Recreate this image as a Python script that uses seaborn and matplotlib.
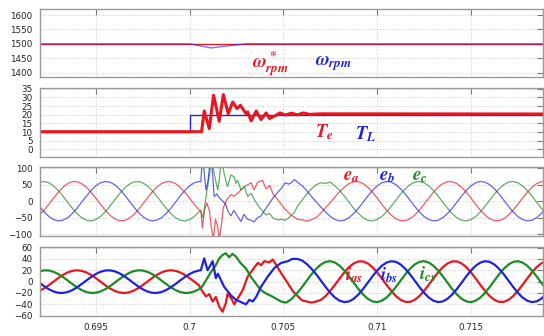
import matplotlib
matplotlib.use("Agg")
import matplotlib.pyplot as plt
import numpy as np
import pandas as pd
import seaborn as sns

# ---------------- sample clocks for the steady-state stretches (ms) ----------------
t_pre_ms = [692.00, 692.25, 692.50, 692.75, 693.00, 693.25, 693.50, 693.75, 694.00, 694.25,
            694.50, 694.75, 695.00, 695.25, 695.50, 695.75, 696.00, 696.25, 696.50, 696.75,
            697.00, 697.25, 697.50, 697.75, 698.00, 698.25, 698.50, 698.75, 699.00, 699.25,
            699.50, 699.75, 700.00, 700.25, 700.50]
t_post_ms = [705.75, 706.00, 706.25, 706.50, 706.75, 707.00, 707.25, 707.50, 707.75, 708.00,
             708.25, 708.50, 708.75, 709.00, 709.25, 709.50, 709.75, 710.00, 710.25, 710.50,
             710.75, 711.00, 711.25, 711.50, 711.75, 712.00, 712.25, 712.50, 712.75, 713.00,
             713.25, 713.50, 713.75, 714.00, 714.25, 714.50, 714.75, 715.00, 715.25, 715.50,
             715.75, 716.00, 716.25, 716.50, 716.75, 717.00, 717.25, 717.50, 717.75, 718.00,
             718.25, 718.50, 718.75, 719.00]

# ---------------- rotor speed (rpm) ----------------
speed_ref_t_ms = [692.0, 719.0]
speed_ref = [1500, 1500]
speed_t_ms = [692.0, 700.03, 701.14, 703.10, 704.50, 719.0]
speed = [1500, 1500, 1486, 1501, 1500, 1500]

# ---------------- torque (N.m) ----------------
te_t_ms = [692.0, 700.64, 700.78, 701.05, 701.28, 701.58, 701.80, 702.06, 702.30, 702.53,
           702.71, 703.01, 703.10, 703.28, 703.55, 703.81, 704.08, 704.26, 704.62, 704.81,
           705.12, 705.43, 705.75, 706.06, 706.40, 707.00, 719.0]
te = [10.2, 10.2, 22.1, 12.0, 31.2, 16.2, 31.6, 20.6, 27.3, 23.5,
      25.4, 20.6, 21.6, 16.4, 22.1, 17.2, 21.0, 17.8, 19.7, 21.0,
      19.8, 20.9, 19.9, 21.0, 20.2, 20.5, 20.4]
tl_t_ms = [692.0, 700.0, 719.0]
tl = [10, 20, 20]

# ---------------- phase voltages (V) ----------------
ea_pre = [-42.4, -27.2, -9.4, 9.4, 27.2, 42.4, 53.5, 59.3, 59.3, 53.5, 42.4, 27.2, 9.4, -9.4, -27.2,
          -42.4, -53.5, -59.3, -59.3, -53.5, -42.4, -27.2, -9.4, 9.4, 27.2, 42.4, 53.5, 59.3, 59.3,
          53.5, 42.4, 27.2, 9.4, -9.4, -27.2]
eb_pre = [-15.5, -32.7, -46.6, -56.0, -59.9, -58.0, -50.3, -37.7, -21.5, -3.1, 15.5, 32.7, 46.6, 56.0,
          59.9, 58.0, 50.3, 37.7, 21.5, 3.1, -15.5, -32.7, -46.6, -56.0, -59.9, -58.0, -50.3, -37.7,
          -21.5, -3.1, 15.5, 32.7, 46.6, 56.0, 59.9]
ec_pre = [58.0, 59.9, 56.0, 46.6, 32.7, 15.5, -3.1, -21.5, -37.7, -50.3, -58.0, -59.9, -56.0, -46.6,
          -32.7, -15.5, 3.1, 21.5, 37.7, 50.3, 58.0, 59.9, 56.0, 46.6, 32.7, 15.5, -3.1, -21.5, -37.7,
          -50.3, -58.0, -59.9, -56.0, -46.6, -32.7]

ea_tr_t_ms = [700.60, 700.68, 700.79, 700.92, 701.06, 701.16, 701.27, 701.38, 701.49, 701.59,
              701.70, 701.80, 701.99, 702.20, 702.36, 702.58, 702.90, 703.28, 703.44, 703.63,
              703.89, 704.08, 704.27, 704.45, 704.72, 705.07, 705.42]
ea_tr = [-28, -82, -30, -5, -30, -80, -115, -55, -75, -115,
         -70, -20, 5, 20, 15, 25, 43, 56, 35, 58,
         63, 38, 48, 22, 3, -23, -43]
eb_tr_t_ms = [700.60, 700.66, 700.74, 700.87, 700.98, 701.08, 701.19, 701.31, 701.46, 701.62,
              701.77, 701.93, 702.04, 702.20, 702.36, 702.55, 702.74, 702.90, 703.09, 703.28,
              703.44, 703.63, 703.81, 704.03, 704.24, 704.45, 704.67, 704.88, 705.10, 705.28,
              705.42, 705.58]
eb_tr = [59, 112, 112, 34, 60, 112, 112, 14, 22, 8,
         0, -10, -30, -45, -28, -45, -62, -40, -55, -58,
         -63, -50, -45, -25, -8, 10, 25, 38, 56, 52,
         56, 66]
ec_tr_t_ms = [700.60, 700.71, 700.82, 700.92, 701.03, 701.14, 701.22, 701.31, 701.40, 701.50,
              701.58, 701.67, 701.76, 701.84, 702.02, 702.20, 702.38, 702.47, 702.56, 702.74,
              702.92, 703.10, 703.28, 703.46, 703.64, 703.81, 704.08, 704.26, 704.45, 704.72,
              704.88, 705.10, 705.26, 705.58]
ec_tr = [-30, -50, -10, 30, 70, 112, 112, 85, 60, 34,
         64, 112, 112, 85, 44, 80, 74, 54, 64, 34,
         44, 14, 24, 4, -12, -25, -42, -37, -52, -57,
         -55, -58, -52, -35]

ea_post = [-55.0, -57.0, -61.0, -56.0, -50.0,
           -36.0, -20.0, -4.0, 13.0, 29.0, 42.4, 53.5, 59.3, 59.3, 53.5, 42.4, 27.2, 9.4, -9.4, -27.2,
           -42.4, -53.5, -59.3, -59.3, -53.5,
           -42.4, -27.2, -9.4, 9.4, 27.2, 42.4, 53.5, 59.3, 59.3, 53.5, 42.4, 27.2, 9.4, -9.4, -27.2,
           -42.4, -53.5, -59.3, -59.3, -53.5,
           -42.4, -27.2, -9.4, 9.4, 27.2, 42.4, 53.5, 59.3, 59.3]
eb_post = [58.0, 47.0, 32.0, 14.0, -2.0,
           -18.0, -33.0, -46.6, -56.0, -59.9, -58.0, -50.3, -37.7, -21.5, -3.1, 15.5, 32.7, 46.6, 56.0, 59.9,
           58.0, 50.3, 37.7, 21.5, 3.1,
           -15.5, -32.7, -46.6, -56.0, -59.9, -58.0, -50.3, -37.7, -21.5, -3.1, 15.5, 32.7, 46.6, 56.0, 59.9,
           58.0, 50.3, 37.7, 21.5, 3.1,
           -15.5, -32.7, -46.6, -56.0, -59.9, -58.0, -50.3, -37.7, -21.5]
ec_post = [-15.5, 3.1, 21.5, 37.7, 50.0,
           56.0, 54.0, 58.0, 46.6, 32.7, 15.5, -3.1, -21.5, -37.7, -50.3, -58.0, -59.9, -56.0, -46.6, -32.7,
           -15.5, 3.1, 21.5, 37.7, 50.3,
           58.0, 59.9, 56.0, 46.6, 32.7, 15.5, -3.1, -21.5, -37.7, -50.3, -58.0, -59.9, -56.0, -46.6, -32.7,
           -15.5, 3.1, 21.5, 37.7, 50.3,
           58.0, 59.9, 56.0, 46.6, 32.7, 15.5, -3.1, -21.5, -37.7]

# ---------------- stator currents (A) ----------------
ia_pre = [-16.2, -11.8, -6.2, 0.0, 6.2, 11.8, 16.2, 19.0, 20.0, 19.0, 16.2, 11.8, 6.2, 0.0, -6.2,
          -11.8, -16.2, -19.0, -20.0, -19.0, -16.2, -11.8, -6.2, 0.0, 6.2, 11.8, 16.2, 19.0, 20.0,
          19.0, 16.2, 11.8, 6.2, 0.0, -6.2]
ib_pre = [-2.1, -8.1, -13.4, -17.3, -19.6, -19.9, -18.3, -14.9, -10.0, -4.2, 2.1, 8.1, 13.4, 17.3,
          19.6, 19.9, 18.3, 14.9, 10.0, 4.2, -2.1, -8.1, -13.4, -17.3, -19.6, -19.9, -18.3, -14.9,
          -10.0, -4.2, 2.1, 8.1, 13.4, 17.3, 19.6]
ic_pre = [18.3, 19.9, 19.6, 17.3, 13.4, 8.1, 2.1, -4.2, -10.0, -14.9, -18.3, -19.9, -19.6, -17.3,
          -13.4, -8.1, -2.1, 4.2, 10.0, 14.9, 18.3, 19.9, 19.6, 17.3, 13.4, 8.1, 2.1, -4.2, -10.0,
          -14.9, -18.3, -19.9, -19.6, -17.3, -13.4]

ia_tr_t_ms = [700.60, 700.87, 701.05, 701.23, 701.40, 701.58, 701.76, 701.93, 702.02, 702.20,
              702.38, 702.56, 702.83, 703.10, 703.37, 703.64, 703.81, 703.99, 704.26, 704.43,
              704.61, 704.88, 705.24, 705.53]
ia_tr = [-13, -26, -22, -35, -27, -44, -53, -38, -22, -28,
         -40, -30, -15, 9, 21, 33, 29, 36, 34, 39,
         30, 15, -3, -18]
ib_tr_t_ms = [700.60, 700.78, 700.96, 701.23, 701.40, 701.51, 701.84, 702.20, 702.47, 702.74,
              703.01, 703.19, 703.37, 703.55, 703.81, 704.17, 704.52, 704.88, 705.24, 705.47]
ib_tr = [20, 41, 20, 36, 6, 14, -9, -24, -32, -36,
         -40, -32, -35, -27, -9, 9, 24, 33, 36, 40]
ic_tr_t_ms = [700.60, 700.87, 701.14, 701.40, 701.58, 701.76, 701.93, 702.11, 702.29, 702.47,
              702.74, 703.01, 703.28, 703.55, 703.81, 704.08, 704.34, 704.61, 704.88, 705.15,
              705.42]
ic_tr = [-12, 2, 17, 29, 41, 47, 50, 43, 49, 44,
         32, 23, 8, -4, -15, -21, -25, -30, -35, -37,
         -31]

ia_post = [-25.0, -33.0, -35.0, -37.0, -35.0,
           -32.1, -25.5, -16.3, -5.6, 5.6, 16.3, 25.5, 32.1, 35.6, 35.6, 32.1, 25.5, 16.3, 5.6, -5.6,
           -16.3, -25.5, -32.1, -35.6, -35.6,
           -32.1, -25.5, -16.3, -5.6, 5.6, 16.3, 25.5, 32.1, 35.6, 35.6, 32.1, 25.5, 16.3, 5.6, -5.6,
           -16.3, -25.5, -32.1, -35.6, -35.6,
           -32.1, -25.5, -16.3, -5.6, 5.6, 16.3, 25.5, 32.1, 35.6]
ib_post = [40.0, 37.0, 31.0, 22.6, 12.9,
           1.9, -9.3, -19.6, -28.0, -33.6, -36.0, -34.8, -30.2, -22.6, -12.9, -1.9, 9.3, 19.6, 28.0, 33.6,
           36.0, 34.8, 30.2, 22.6, 12.9,
           1.9, -9.3, -19.6, -28.0, -33.6, -36.0, -34.8, -30.2, -22.6, -12.9, -1.9, 9.3, 19.6, 28.0, 33.6,
           36.0, 34.8, 30.2, 22.6, 12.9,
           1.9, -9.3, -19.6, -28.0, -33.6, -36.0, -34.8, -30.2, -22.6]
ic_post = [-19.6, -9.3, 1.9, 12.9, 22.6,
           30.2, 34.8, 36.0, 33.6, 28.0, 19.6, 9.3, -1.9, -12.9, -22.6, -30.2, -34.8, -36.0, -33.6, -28.0,
           -19.6, -9.3, 1.9, 12.9, 22.6,
           30.2, 34.8, 36.0, 33.6, 28.0, 19.6, 9.3, -1.9, -12.9, -22.6, -30.2, -34.8, -36.0, -33.6, -28.0,
           -19.6, -9.3, 1.9, 12.9, 22.6,
           30.2, 34.8, 36.0, 33.6, 28.0, 19.6, 9.3, -1.9, -12.9]

x_ticks = [0.695, 0.700, 0.705, 0.710, 0.715]
x_tick_labels = ["0.695", "0.7", "0.705", "0.71", "0.715"]

RED = "#e8161e"
BLUE = "#1e22e0"
GREEN = "#1c8c24"


def stitch(pre, tr_t, tr, post):
    """Join the steady, transient and settled stretches into one trace (t in s)."""
    t = np.concatenate([t_pre_ms, tr_t, t_post_ms]) / 1000.0
    v = np.concatenate([pre, tr, post])
    return t, v


def long_frame(traces):
    parts = []
    for name, (t, v) in traces.items():
        parts.append(pd.DataFrame({"t": t, "v": v, "sig": name}))
    return pd.concat(parts, ignore_index=True)


volt = long_frame({
    "ea": stitch(ea_pre, ea_tr_t_ms, ea_tr, ea_post),
    "ec": stitch(ec_pre, ec_tr_t_ms, ec_tr, ec_post),
    "eb": stitch(eb_pre, eb_tr_t_ms, eb_tr, eb_post),
})
curr = long_frame({
    "ia": stitch(ia_pre, ia_tr_t_ms, ia_tr, ia_post),
    "ic": stitch(ic_pre, ic_tr_t_ms, ic_tr, ic_post),
    "ib": stitch(ib_pre, ib_tr_t_ms, ib_tr, ib_post),
})

sns.set_theme(style="white")
plt.rcParams["font.family"] = ["DejaVu Sans"]
plt.rcParams["mathtext.fontset"] = "custom"
plt.rcParams["mathtext.it"] = "STIXGeneral:italic:bold"
plt.rcParams["mathtext.rm"] = "STIXGeneral:bold"

fig = plt.figure(figsize=(5.44, 3.36), dpi=100)
W, H = 544.0, 336.0
left, right = 39.5 / W, 543.0 / W
rows = [(9, 77.3), (88.3, 156.7), (167, 236), (247, 316)]
axes = []
for top_px, bot_px in rows:
    ax = fig.add_axes([left, 1 - bot_px / H, right - left, (bot_px - top_px) / H])
    axes.append(ax)
ax1, ax2, ax3, ax4 = axes

common = dict(estimator=None, errorbar=None, legend=False)

# speed
sns.lineplot(x=np.array(speed_ref_t_ms) / 1000, y=speed_ref, color=RED, lw=1.0, ax=ax1, **common)
sns.lineplot(x=np.array(speed_t_ms) / 1000, y=speed, color=BLUE, lw=1.0, alpha=0.6, ax=ax1, **common)

# torque
sns.lineplot(x=np.array(tl_t_ms) / 1000, y=tl, color=BLUE, lw=1.0, drawstyle="steps-post", ax=ax2, **common)
sns.lineplot(x=np.array(te_t_ms) / 1000, y=te, color=RED, lw=2.2, ax=ax2, **common)

# voltages and currents
pal_v = {"ea": RED, "eb": BLUE, "ec": GREEN}
pal_i = {"ia": RED, "ib": BLUE, "ic": GREEN}
sns.lineplot(data=volt, x="t", y="v", hue="sig", palette=pal_v, lw=0.9, alpha=0.7, ax=ax3, **common)
sns.lineplot(data=curr, x="t", y="v", hue="sig", palette=pal_i, lw=1.6, ax=ax4, **common)

ylims = [(1384, 1621), (-4.2, 35.2), (-106, 104), (-60.5, 61)]
yticks = [np.arange(1400, 1601, 50), np.arange(0, 36, 5), np.arange(-100, 101, 50), np.arange(-60, 61, 20)]
for ax, yl, yt in zip(axes, ylims, yticks):
    ax.set_xlim(0.692, 0.71884)
    ax.set_ylim(*yl)
    ax.set_yticks(yt)
    ax.set_xticks(x_ticks)
    ax.set_xlabel("")
    ax.set_ylabel("")
    ax.grid(True, color="#bdbdbd", linestyle=(0, (1, 2)), linewidth=0.6)
    ax.tick_params(direction="in", top=True, right=True, length=4, width=0.8,
                   color="#777777", labelcolor="#222222", labelsize=6.3, pad=5)
    for sp in ax.spines.values():
        sp.set_color("#999999")
        sp.set_linewidth(1.0)
    if ax is not ax4:
        ax.set_xticklabels([])
ax4.set_xticklabels(x_tick_labels)

# signal names
lab = dict(fontsize=13.5, ha="left", va="center")
ax1.text(0.70335, 1433, r"$\omega^*_{rpm}$", color=RED, **lab)
ax1.text(0.70670, 1433, r"$\omega_{rpm}$", color=BLUE, **lab)
ax2.text(0.70670, 9.9, r"$T_e$", color=RED, **lab)
ax2.text(0.70880, 8.8, r"$T_L$", color=BLUE, **lab)
ax3.text(0.70820, 77, r"$e_a$", color=RED, **lab)
ax3.text(0.71008, 77, r"$e_b$", color=BLUE, **lab)
ax3.text(0.71185, 77, r"$e_c$", color=GREEN, **lab)
ax4.text(0.70826, 12, r"$i_{as}$", color=RED, **lab)
ax4.text(0.71013, 11, r"$i_{bs}$", color=BLUE, **lab)
ax4.text(0.71222, 14, r"$i_{cs}$", color=GREEN, **lab)

fig.savefig("out.png", dpi=100)
